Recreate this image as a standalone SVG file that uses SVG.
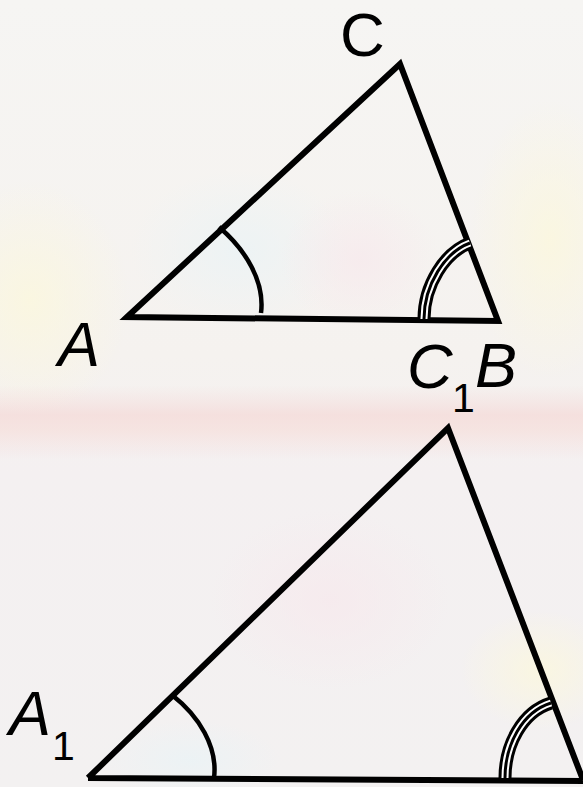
<svg xmlns="http://www.w3.org/2000/svg" width="583" height="787" viewBox="0 0 583 787">
<defs>
<linearGradient id="bg" x1="0" y1="0" x2="0" y2="1">
<stop offset="0" stop-color="#f6f5f3"/>
<stop offset="0.45" stop-color="#f5f2ef"/>
<stop offset="0.6" stop-color="#f4f0f1"/>
<stop offset="1" stop-color="#f3f1f1"/>
</linearGradient>
<linearGradient id="band" x1="0" y1="0" x2="0" y2="1">
<stop offset="0" stop-color="#f5dcda" stop-opacity="0"/>
<stop offset="0.4" stop-color="#f5dad8" stop-opacity="0.75"/>
<stop offset="0.6" stop-color="#f6ddd9" stop-opacity="0.65"/>
<stop offset="1" stop-color="#f5dcda" stop-opacity="0"/>
</linearGradient>
<radialGradient id="yel" cx="0.5" cy="0.5" r="0.5">
<stop offset="0" stop-color="#fbf7de" stop-opacity="0.85"/>
<stop offset="1" stop-color="#fbf7de" stop-opacity="0"/>
</radialGradient>
<radialGradient id="blu" cx="0.5" cy="0.5" r="0.5">
<stop offset="0" stop-color="#e9f3f6" stop-opacity="0.7"/>
<stop offset="1" stop-color="#e9f3f6" stop-opacity="0"/>
</radialGradient>
<radialGradient id="pnk" cx="0.5" cy="0.5" r="0.5">
<stop offset="0" stop-color="#f7e8ec" stop-opacity="0.7"/>
<stop offset="1" stop-color="#f7e8ec" stop-opacity="0"/>
</radialGradient>
</defs>
<style>
.edge{fill:none;stroke:#000;stroke-width:6;stroke-linejoin:miter;stroke-linecap:butt}
.arc{fill:none;stroke:#000;stroke-width:4.5}
.t1{fill:none;stroke:#000;stroke-width:13}
.t2{fill:none;stroke:#fff;stroke-width:7}
.t3{fill:none;stroke:#000;stroke-width:3}
.lbl{font-family:"Liberation Sans",Arial,sans-serif;font-style:italic;font-size:63px;fill:#000}
.up{font-family:"Liberation Sans",Arial,sans-serif;font-size:62px;fill:#000}
.sub{font-family:"Liberation Sans",Arial,sans-serif;font-size:41px;fill:#000}
</style>
<g id="background">
<rect width="583" height="787" fill="url(#bg)"/>
<ellipse cx="30" cy="300" rx="100" ry="120" fill="url(#yel)"/>
<ellipse cx="550" cy="240" rx="80" ry="140" fill="url(#yel)"/>
<ellipse cx="240" cy="250" rx="110" ry="80" fill="url(#blu)"/>
<ellipse cx="360" cy="260" rx="80" ry="70" fill="url(#pnk)"/>
<rect x="0" y="385" width="583" height="75" fill="url(#band)"/>
<ellipse cx="540" cy="670" rx="80" ry="60" fill="url(#yel)"/>
<ellipse cx="190" cy="760" rx="90" ry="40" fill="url(#blu)"/>
<ellipse cx="330" cy="600" rx="120" ry="90" fill="url(#pnk)"/>
</g>
<g id="connectors">
<path class="edge" d="M127 317 L400 64 L498 321 Z"/>
<path class="edge" d="M88 778 L448 428 L583 780 M88 778 L583 781"/>
</g>
<g id="angle-A">
<path class="arc" d="M219 227 C246 250 265 282 261 313"/>
</g>
<g id="angle-B">
<path class="t1" d="M424 319 C424 285 445 252 470 243"/>
<path class="t2" d="M424 319 C424 285 445 252 470 243"/>
<path class="t3" d="M424 319 C424 285 445 252 470 243"/>
</g>
<g id="angle-A1">
<path class="arc" d="M172 695 C199 716 218 747 214 778"/>
</g>
<g id="angle-B1">
<path class="t1" d="M505 778 C505 745 522 712 551 703"/>
<path class="t2" d="M505 778 C505 745 522 712 551 703"/>
<path class="t3" d="M505 778 C505 745 522 712 551 703"/>
</g>
<g id="label-C"><text class="up" x="340" y="56">C</text></g>
<g id="label-A"><text class="lbl" x="58" y="366">A</text></g>
<g id="label-C1"><text class="lbl" x="407" y="388">C</text><text class="sub" x="452" y="412">1</text></g>
<g id="label-B"><text class="lbl" x="475" y="387">B</text></g>
<g id="label-A1"><text class="lbl" x="9" y="735">A</text><text class="sub" x="52" y="760">1</text></g>
</svg>
